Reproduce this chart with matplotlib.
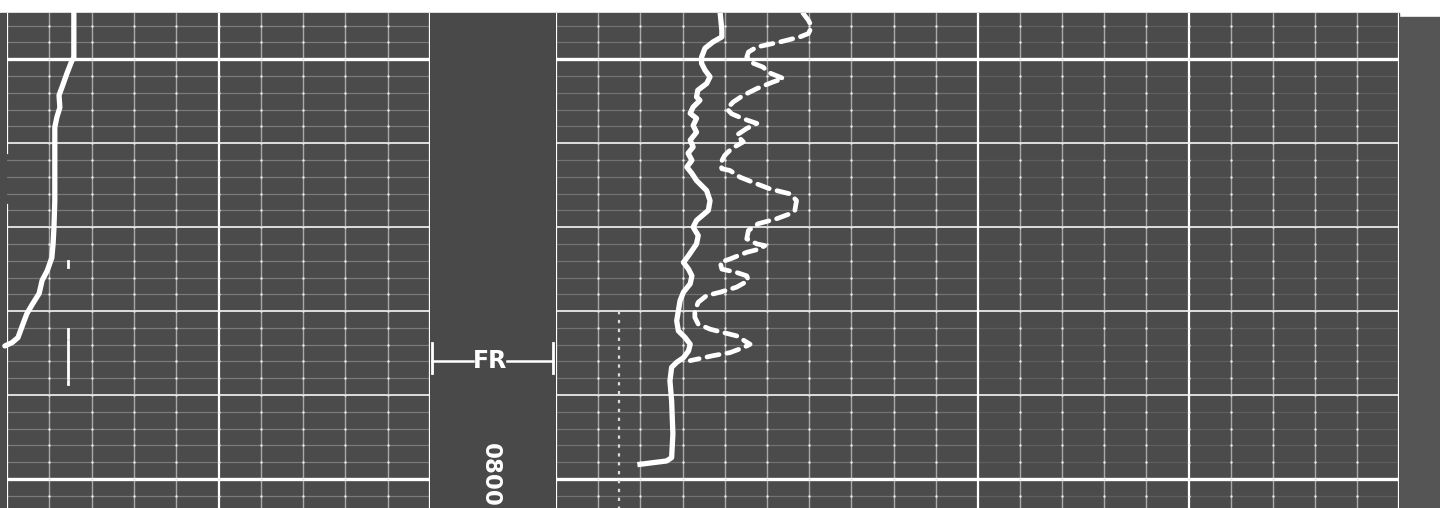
""" Scanned log strip: three grid tracks with a depth column between track 1 and track 2. """

import numpy as np
import matplotlib.pyplot as plt
from matplotlib.patches import Rectangle

# depth window of the strip (ft, increasing downwards)
TOP_DEPTH = 689.0
BOTTOM_DEPTH = 806.9
FR_DEPTH = 771.8
DEPTH_LABEL_BASE = 806.6
DEPTH_TEXT = '0800'

# track 1 curve (chart divisions 0-10)
t1_depth = [689.0, 699.8, 700.2, 703.3, 706.7, 708.6, 711.5, 713.8, 716.2, 720.0,
            724.1, 728.2, 733.7, 740.1, 743.9, 747.3, 750.4, 752.7, 755.8, 758.2,
            760.6, 763.0, 766.3, 767.5, 768.3]
t1_value = [1.58, 1.58, 1.54, 1.42, 1.30, 1.23, 1.25, 1.18, 1.13, 1.13,
            1.13, 1.13, 1.13, 1.11, 1.09, 1.06, 0.95, 0.83, 0.76, 0.61,
            0.47, 0.38, 0.26, 0.12, -0.05]

# short broken trace in track 1
t1_trace_depth = [748.0, 749.6, np.nan, 764.2, 766.3, np.nan, 767.1, 771.8,
                  np.nan, 772.3, 775.9, np.nan, 776.6, 777.3]
t1_trace_value = [1.44] * len(t1_trace_depth)

# left edge of track 1 (the scan has a gap in it)
t1_edge_depth = [TOP_DEPTH, 722.4, np.nan, 734.8, BOTTOM_DEPTH]
t1_edge_value = [0, 0, np.nan, 0, 0]

# track 2 solid curve
t2_solid_depth = [689.0, 693.1, 694.7, 695.9, 697.4, 699.5, 701.0, 702.6, 704.2, 705.8,
                  707.4, 709.0, 709.8, 711.4, 712.9, 714.1, 715.8, 717.4, 719.3, 720.9,
                  722.4, 724.1, 725.7, 727.2, 728.9, 731.3, 733.7, 736.0, 738.4, 740.0,
                  742.0, 744.0, 746.8, 748.4, 750.0, 751.6, 753.5, 755.5, 757.5, 759.9,
                  762.3, 764.7, 766.3, 767.9, 769.5, 771.1, 772.2, 773.4, 776.6, 781.4,
                  789.3, 794.9, 795.7, 796.1, 796.5]
t2_solid_value = [3.89, 3.93, 3.93, 3.72, 3.53, 3.45, 3.45, 3.53, 3.65, 3.57,
                  3.36, 3.33, 3.41, 3.25, 3.18, 3.33, 3.25, 3.33, 3.18, 3.25,
                  3.13, 3.22, 3.10, 3.22, 3.33, 3.57, 3.65, 3.61, 3.33, 3.25,
                  3.37, 3.33, 3.14, 3.02, 3.14, 3.22, 3.18, 3.02, 2.94, 2.90,
                  2.86, 2.90, 3.06, 3.18, 3.14, 3.02, 2.86, 2.74, 2.70, 2.74,
                  2.77, 2.74, 2.62, 2.30, 1.99]

# track 2 dashed curve
t2_dash_depth = [689.0, 690.7, 692.3, 693.9, 694.7, 695.9, 697.1, 698.3, 699.5, 701.0,
                 701.9, 703.1, 704.6, 705.4, 707.0, 708.6, 710.2, 711.8, 713.0, 714.2,
                 715.3, 716.5, 718.1, 719.7, 721.3, 722.9, 724.9, 726.1, 726.5, 728.1,
                 729.7, 730.9, 732.1, 733.7, 736.0, 736.8, 738.0, 739.2, 740.8, 742.8,
                 744.0, 744.4, 745.2, 746.0, 747.6, 748.4, 750.0, 750.8, 751.6, 752.7,
                 754.3, 755.5, 756.3, 757.9, 759.9, 761.5, 763.1, 764.3, 765.1, 765.9,
                 767.9, 768.7, 769.9, 770.6, 771.8]
t2_dash_value = [5.85, 5.98, 6.06, 5.98, 5.78, 5.31, 4.76, 4.56, 4.52, 4.68,
                 4.91, 5.02, 5.39, 5.15, 4.76, 4.44, 4.20, 4.05, 4.16, 4.44,
                 4.76, 4.52, 4.28, 4.44, 4.16, 4.00, 3.89, 3.93, 4.12, 4.36,
                 4.76, 5.07, 5.55, 5.70, 5.66, 5.55, 5.23, 4.79, 4.56, 4.52,
                 4.76, 4.95, 4.83, 4.52, 4.12, 3.89, 3.93, 4.28, 4.52, 4.56,
                 4.28, 3.89, 3.57, 3.37, 3.29, 3.29, 3.37, 3.65, 3.96, 4.28,
                 4.60, 4.44, 4.12, 3.73, 3.18]

# dotted trace in track 2
t2_trace_depth = [759.9, BOTTOM_DEPTH]
t2_trace_value = [1.49, 1.49]

W, H = 1440, 508
PAPER = (H - 13) / H
GREY = '#4b4b4b'


def make_track(fig, left, width, bright_middle, minor_colour, left_edge=True):
    """ Adds one gridded track (0-10 divisions across). """
    ax = fig.add_axes([left / W, 0, width / W, PAPER])
    ax.set_facecolor(GREY)
    ax.set_xlim(0, 10)
    ax.set_ylim(BOTTOM_DEPTH, TOP_DEPTH)
    ax.set_xticks([])
    ax.set_yticks([])
    for spine in ax.spines.values():
        spine.set_visible(False)

    # depth lines: every 4 ft faint, every 20 ft bright, every 100 ft heavy
    depths = np.arange(692, 806, 4)
    for d in depths:
        if d % 100 == 0:
            ax.axhline(d, color='white', lw=2.4, zorder=2)
        elif d % 20 == 0:
            ax.axhline(d, color='#dedede', lw=1.4, zorder=1)
        else:
            ax.axhline(d, color=minor_colour, lw=0.9, zorder=1)

    for v in range(11):
        if v == 0 and not left_edge:
            continue
        if v in (0, 10) or (bright_middle and v == 5):
            ax.axvline(v, color='white', lw=1.6, zorder=2)
        else:
            ax.axvline(v, color='#a8a8a8', lw=1.0, zorder=1)

    # brighter dots where the grid lines cross
    gx, gy = np.meshgrid(np.arange(1, 10), depths)
    ax.scatter(gx.ravel(), gy.ravel(), s=3, color='#ececec', linewidths=0, zorder=2)
    return ax


def main():
    fig = plt.figure(figsize=(W / 100, H / 100), dpi=100, facecolor='white')

    # paper background
    fig.add_artist(Rectangle((0, 0), 1399 / W, PAPER, transform=fig.transFigure,
                             color=GREY, zorder=0))
    fig.add_artist(Rectangle((1399 / W, 0), 1 - 1399 / W, (H - 17) / H,
                             transform=fig.transFigure, color='#555555', zorder=0))

    ax1 = make_track(fig, 7, 423, True, '#7a7a7a', left_edge=False)
    ax2 = make_track(fig, 556, 422, False, '#727272')
    ax3 = make_track(fig, 978, 421, True, '#5e5e5e')

    # depth column
    axd = fig.add_axes([430 / W, 0, 126 / W, PAPER])
    axd.set_facecolor('#494949')
    axd.set_xlim(0, 1)
    axd.set_ylim(BOTTOM_DEPTH, TOP_DEPTH)
    axd.set_xticks([])
    axd.set_yticks([])
    for spine in axd.spines.values():
        spine.set_visible(False)

    # curves
    ax1.plot(t1_edge_value, t1_edge_depth, color='white', lw=1.6, zorder=2)
    ax1.plot(t1_value, t1_depth, color='white', lw=3.8, solid_capstyle='round',
             zorder=5, clip_on=False)
    ax1.plot(t1_trace_value, t1_trace_depth, color='white', lw=2.0, zorder=5)

    ax2.plot(t2_solid_value, t2_solid_depth, color='white', lw=3.8,
             solid_joinstyle='round', zorder=5)
    ax2.plot(t2_dash_value, t2_dash_depth, color='white', lw=3.4,
             linestyle=(0, (2.6, 1.7)), dash_capstyle='round', zorder=5)
    ax2.plot(t2_trace_value, t2_trace_depth, color='#dcdcdc', lw=1.6,
             linestyle=(0, (1.5, 2.5)), zorder=3)

    # first reading bracket
    axd.plot([0.016, 0.016], [FR_DEPTH - 4.3, FR_DEPTH + 2.9], color='white', lw=2)
    axd.plot([0.976, 0.976], [FR_DEPTH - 4.3, FR_DEPTH + 2.9], color='white', lw=2)
    axd.plot([0.016, 0.34], [FR_DEPTH, FR_DEPTH], color='white', lw=1.8)
    axd.plot([0.61, 0.976], [FR_DEPTH, FR_DEPTH], color='white', lw=1.8)
    axd.text(0.475, FR_DEPTH, 'FR', color='white', fontsize=17, fontweight='bold',
             ha='center', va='center')

    # depth number, sitting on the bottom edge of the strip
    axd.text(0.476, DEPTH_LABEL_BASE, DEPTH_TEXT, color='white', fontsize=16.5,
             fontweight='bold', rotation=-90, ha='center', va='bottom')

    fig.savefig('out.png', dpi=100, facecolor='white')


if __name__ == '__main__':
    main()
